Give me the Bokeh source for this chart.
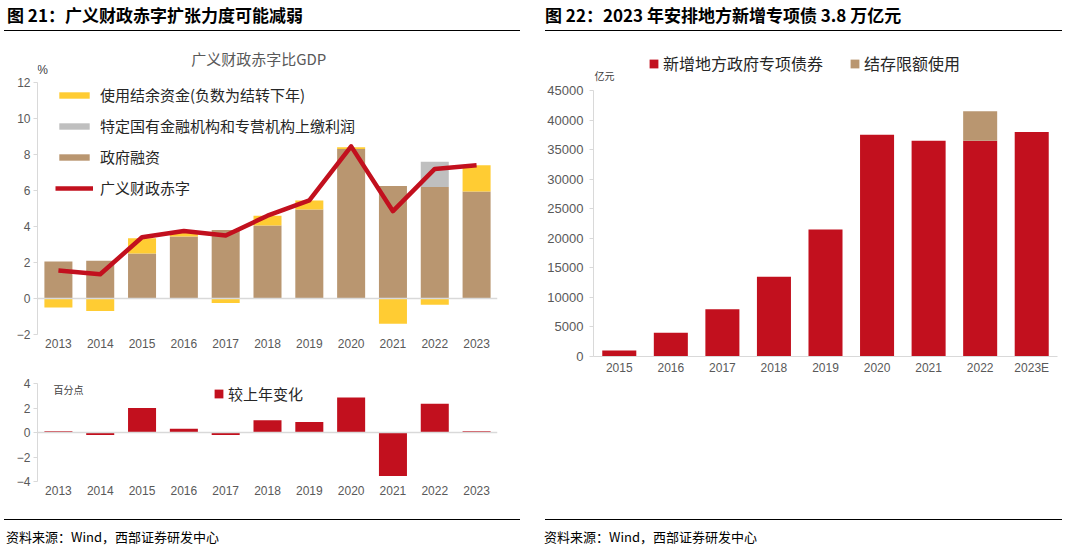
from bokeh.plotting import figure
from bokeh.models import (FactorRange, Range1d, Span, Legend, LegendItem, FixedTicker,
                          Label, ColumnDataSource, Div)
from bokeh.layouts import row, column
from bokeh.embed import file_html
from bokeh.resources import INLINE

# ---------------- data ----------------
years = ["2013", "2014", "2015", "2016", "2017", "2018", "2019", "2020", "2021", "2022", "2023"]
gov_financing = [2.05, 2.1, 2.5, 3.45, 3.8, 4.05, 4.95, 8.3, 6.25, 6.2, 5.95]
surplus_funds = [-0.5, -0.7, 0.85, 0.3, -0.25, 0.55, 0.5, 0.1, -1.4, -0.35, 1.45]
soe_profits = [0, 0, 0, 0, 0, 0, 0, 0, 0, 1.4, 0]
broad_deficit = [1.55, 1.35, 3.4, 3.75, 3.5, 4.6, 5.45, 8.45, 4.85, 7.2, 7.4]
yoy_change = [0.1, -0.2, 2.0, 0.3, -0.2, 1.0, 0.85, 2.85, -3.55, 2.35, 0.1]

years_r = ["2015", "2016", "2017", "2018", "2019", "2020", "2021", "2022", "2023E"]
new_special_bonds = [1000, 4000, 8000, 13500, 21500, 37500, 36500, 36500, 38000]
carryover_quota = [0, 0, 0, 0, 0, 0, 0, 5000, 0]

ticks_top = [-2, 0, 2, 4, 6, 8, 10, 12]
ticks_bot = [-4, -2, 0, 2, 4]
ticks_r = [0, 5000, 10000, 15000, 20000, 25000, 30000, 35000, 40000, 45000]

title_left = "图 21：广义财政赤字扩张力度可能减弱"
title_right = "图 22：2023 年安排地方新增专项债 3.8 万亿元"
source_text = "资料来源：Wind，西部证券研发中心"

# ---------------- styles ----------------
RED = "#C2101E"
TAN = "#B99670"
YELLOW = "#FFCC33"
GRAY = "#BFBFBF"
AXIS = "#D9D9D9"
LBL = "#595959"
CJK = "Noto Sans CJK SC"
LAT = "Liberation Sans"


def style_axes(p, ticks, bounds, xline=None):
    p.xgrid.visible = False
    p.ygrid.visible = False
    p.outline_line_color = None
    p.yaxis.ticker = FixedTicker(ticks=ticks)
    p.yaxis.bounds = bounds
    p.yaxis.axis_line_color = AXIS
    p.yaxis.major_tick_line_color = AXIS
    p.yaxis.major_tick_out = 4
    p.yaxis.major_tick_in = 0
    p.yaxis.minor_tick_line_color = None
    p.yaxis.major_label_standoff = 3
    p.xaxis.axis_line_color = xline
    p.xaxis.major_tick_line_color = None
    p.xaxis.minor_tick_line_color = None
    p.xaxis.major_tick_out = 0
    p.xaxis.major_label_standoff = 4
    for ax in (p.xaxis, p.yaxis):
        ax.major_label_text_font = LAT
        ax.major_label_text_color = LBL
        ax.major_label_text_font_size = "12px"


def header_div(text, w, tx, lx0, lx1):
    html = (f'<div style="position:relative;width:{w}px;height:40px;">'
            f'<div style="position:absolute;left:{tx}px;top:4px;font-family:\'{CJK}\';'
            f'font-size:17px;font-weight:bold;line-height:22px;color:#000;white-space:nowrap;">{text}</div>'
            f'<div style="position:absolute;left:{lx0}px;top:30px;width:{lx1 - lx0}px;height:0;'
            f'border-top:1.5px solid #000;"></div></div>')
    return Div(text=html, width=w, height=40, margin=0)


def footer_div(text, w, tx, lx0, lx1):
    html = (f'<div style="position:relative;width:{w}px;height:42px;">'
            f'<div style="position:absolute;left:{lx0}px;top:11px;width:{lx1 - lx0}px;height:0;'
            f'border-top:1.5px solid #000;"></div>'
            f'<div style="position:absolute;left:{tx}px;top:20px;font-family:\'{CJK}\';'
            f'font-size:13px;line-height:18px;color:#000;white-space:nowrap;">{text}</div></div>')
    return Div(text=html, width=w, height=42, margin=0)


# ---------------- stacked components (derived from data) ----------------
gray_bottom = gov_financing
gray_top = [f + g for f, g in zip(gov_financing, soe_profits)]
yel_bottom = [t if s >= 0 else s for t, s in zip(gray_top, surplus_funds)]
yel_top = [t + s if s >= 0 else 0 for t, s in zip(gray_top, surplus_funds)]

src1 = ColumnDataSource(dict(x=years, fin=gov_financing, gb=gray_bottom, gt=gray_top,
                             yb=yel_bottom, yt=yel_top, line=broad_deficit))

# ---------------- top-left chart ----------------
p1 = figure(width=530, height=320, x_range=FactorRange(*years, range_padding=0),
            y_range=Range1d(-2, -2 + 294 / 18), output_backend="svg", toolbar_location=None,
            min_border_left=37, min_border_right=33, min_border_top=0, min_border_bottom=26)
style_axes(p1, ticks_top, (-2, 12))
p1.add_layout(Span(location=0, dimension="width", line_color=AXIS, line_width=1.5))
r_b = p1.vbar(x="x", bottom=0, top="fin", width=0.67, source=src1, fill_color=TAN, line_color=None)
r_g = p1.vbar(x="x", bottom="gb", top="gt", width=0.67, source=src1, fill_color=GRAY, line_color=None)
r_y = p1.vbar(x="x", bottom="yb", top="yt", width=0.67, source=src1, fill_color=YELLOW, line_color=None)
r_l = p1.line(x="x", y="line", source=src1, line_color=RED, line_width=4.5, line_join="round")
leg1 = Legend(items=[LegendItem(label="使用结余资金(负数为结转下年)", renderers=[r_y]),
                     LegendItem(label="特定国有金融机构和专营机构上缴利润", renderers=[r_g]),
                     LegendItem(label="政府融资", renderers=[r_b]),
                     LegendItem(label="广义财政赤字", renderers=[r_l])],
              location=(18, 136), orientation="vertical", border_line_color=None,
              background_fill_alpha=0, glyph_width=38, glyph_height=8, label_height=20,
              spacing=10, padding=0, margin=0, label_standoff=7,
              label_text_font=CJK, label_text_font_size="15px", label_text_color="#262626")
p1.add_layout(leg1)
p1.add_layout(Label(x=0.12, y=12.67, text="%", text_font=LAT, text_font_size="12px",
                    text_color="#404040", text_align="center", text_baseline="middle"))
p1.add_layout(Label(x=5.29, y=13.33, text="广义财政赤字比GDP", text_font=CJK,
                    text_font_size="15px", text_color=LBL, text_align="center",
                    text_baseline="middle"))

# ---------------- bottom-left chart ----------------
src2 = ColumnDataSource(dict(x=years, v=yoy_change))
p2 = figure(width=530, height=148, x_range=FactorRange(*years, range_padding=0),
            y_range=Range1d(-4, -4 + 113 / 12.25), output_backend="svg", toolbar_location=None,
            min_border_left=37, min_border_right=33, min_border_top=8, min_border_bottom=27)
style_axes(p2, ticks_bot, (-4, 4))
p2.add_layout(Span(location=0, dimension="width", line_color=AXIS, line_width=1.5))
r_c = p2.vbar(x="x", bottom=0, top="v", width=0.67, source=src2, fill_color=RED, line_color=None)
leg2 = Legend(items=[LegendItem(label="较上年变化", renderers=[r_c])], location=(176, 77),
              border_line_color=None, background_fill_alpha=0, glyph_width=11, glyph_height=11,
              label_height=20, padding=0, margin=0, label_standoff=4,
              label_text_font=CJK, label_text_font_size="15px", label_text_color="#262626")
p2.add_layout(leg2)
p2.add_layout(Label(x=0.74, y=3.5, text="百分点", text_font=CJK, text_font_size="10px",
                    text_color="#404040", text_align="center", text_baseline="middle"))

# ---------------- right chart ----------------
src3 = ColumnDataSource(dict(x=years_r, new=new_special_bonds,
                             top2=[a + b for a, b in zip(new_special_bonds, carryover_quota)]))
p3 = figure(width=534, height=468, x_range=FactorRange(*years_r, range_padding=0),
            y_range=Range1d(0, 306 * 45000 / 266), output_backend="svg", toolbar_location=None,
            min_border_left=63, min_border_right=7, min_border_top=10, min_border_bottom=152)
style_axes(p3, ticks_r, (0, 45000), xline=AXIS)
p3.yaxis.major_label_text_font_size = "13px"
p3.yaxis.major_label_standoff = 6
r_n = p3.vbar(x="x", bottom=0, top="new", width=0.66, source=src3, fill_color=RED, line_color=None)
r_c2 = p3.vbar(x="x", bottom="new", top="top2", width=0.66, source=src3, fill_color=TAN, line_color=None)
leg3 = Legend(items=[LegendItem(label="新增地方政府专项债券", renderers=[r_n]),
                     LegendItem(label="结存限额使用", renderers=[r_c2])],
              location=(55, 281), orientation="horizontal", border_line_color=None,
              background_fill_alpha=0, glyph_width=11, glyph_height=11, label_height=20,
              spacing=26, padding=0, margin=0, label_standoff=4,
              label_text_font=CJK, label_text_font_size="16px", label_text_color="#262626")
p3.add_layout(leg3)
p3.add_layout(Label(x=0.0, y=47500, text="亿元", text_font=CJK, text_font_size="10px",
                    text_color="#404040", text_align="left", text_baseline="middle",
                    x_offset=1))

# ---------------- headers / footers ----------------
hL = header_div(title_left, 530, 7, 4, 520)
hR = header_div(title_right, 536, 15, 15, 532)
fL = footer_div(source_text, 530, 6, 4, 520)
fR = footer_div(source_text, 536, 14, 15, 532)

layout = row(column(hL, p1, p2, fL, spacing=0), column(hR, p3, fR, spacing=0), spacing=0)

open("out.html", "w").write(file_html(layout, INLINE))
